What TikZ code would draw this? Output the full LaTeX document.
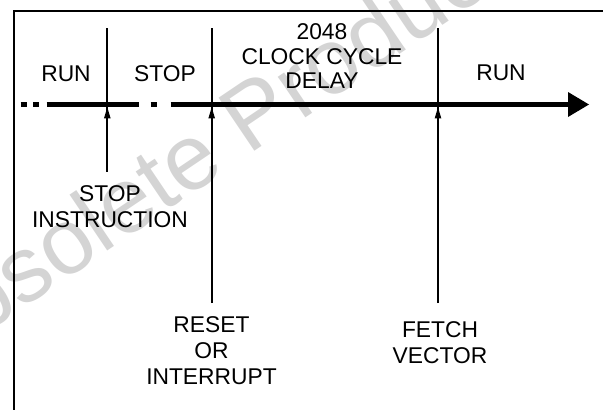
\documentclass[tikz,border=0pt]{standalone}
\usepackage{fontspec}
\setmainfont{Liberation Sans}
\usetikzlibrary{arrows.meta}
\begin{document}
\begin{tikzpicture}[x=1pt,y=-1pt,
  lbl/.style={inner sep=0pt, anchor=south, align=center, font=\fontsize{22.8}{26}\selectfont},
  frameline/.style={line width=2pt},
  marker/.style={line width=2pt},
  markarrow/.style={line width=2pt, -{Triangle[length=11.7pt,width=6pt]}},
  timeline/.style={line width=5pt},
  watermark/.style={rotate=34, text=black!17, inner sep=0pt, font=\fontsize{93}{93}\selectfont}
]
\useasboundingbox (0,0) rectangle (603,410);
\begin{scope}
  \clip (0,0) rectangle (603,410);
  \node[watermark] (wm) at (198,150) {Obsolete Product};
\end{scope}
% frame
\coordinate (fbl) at (14,410);
\coordinate (ftl) at (14,11);
\coordinate (ftr) at (603,11);
\draw[frameline] (fbl) -- (ftl) -- (ftr);
% timeline
\coordinate (d1a) at (20.7,104.5);
\coordinate (d1b) at (26.7,104.5);
\coordinate (d2a) at (33.3,104.5);
\coordinate (d2b) at (39.3,104.5);
\coordinate (s1a) at (46.7,104.5);
\coordinate (s1b) at (139.3,104.5);
\coordinate (d3a) at (150.7,104.5);
\coordinate (d3b) at (157.3,104.5);
\coordinate (s2a) at (170.7,104.5);
\coordinate (s2b) at (570,104.5);
\coordinate (ah1) at (568,92);
\coordinate (ahtip) at (589,104.5);
\coordinate (ah2) at (568,117);
\draw[timeline] (d1a) -- (d1b) (d2a) -- (d2b) (s1a) -- (s1b) (d3a) -- (d3b) (s2a) -- (s2b);
\fill (ah1) -- (ahtip) -- (ah2) -- cycle;
% markers
\coordinate (m1top) at (107.3,28.3);
\coordinate (m1bot) at (107.3,171.7);
\coordinate (m1tip) at (107.3,106.7);
\coordinate (m2top) at (211.7,28.3);
\coordinate (m2bot) at (211.7,303);
\coordinate (m2tip) at (211.7,106.7);
\coordinate (m3top) at (438,28.3);
\coordinate (m3bot) at (438,303);
\coordinate (m3tip) at (438,106.7);
\draw[marker] (m1top) -- (m1bot);
\draw[marker] (m2top) -- (m2bot);
\draw[marker] (m3top) -- (m3bot);
\draw[markarrow] (m1bot) -- (m1tip);
\draw[markarrow] (m2bot) -- (m2tip);
\draw[markarrow] (m3bot) -- (m3tip);
% labels
\node[lbl] (runA) at (66,81.7) {RUN};
\node[lbl] (stopA) at (165,81.7) {STOP};
\node[lbl, font=\fontsize{22.8}{24.8}\selectfont] (delay) at (322,89) {2048\\CLOCK CYCLE\\DELAY};
\node[lbl] (runB) at (501,81) {RUN};
\node[lbl] (stopinst) at (110,228.3) {STOP\\INSTRUCTION};
\node[lbl] (reset) at (211.5,384.5) {RESET\\OR\\INTERRUPT};
\node[lbl] (fetch) at (440,363.7) {FETCH\\VECTOR};
\end{tikzpicture}
\end{document}
